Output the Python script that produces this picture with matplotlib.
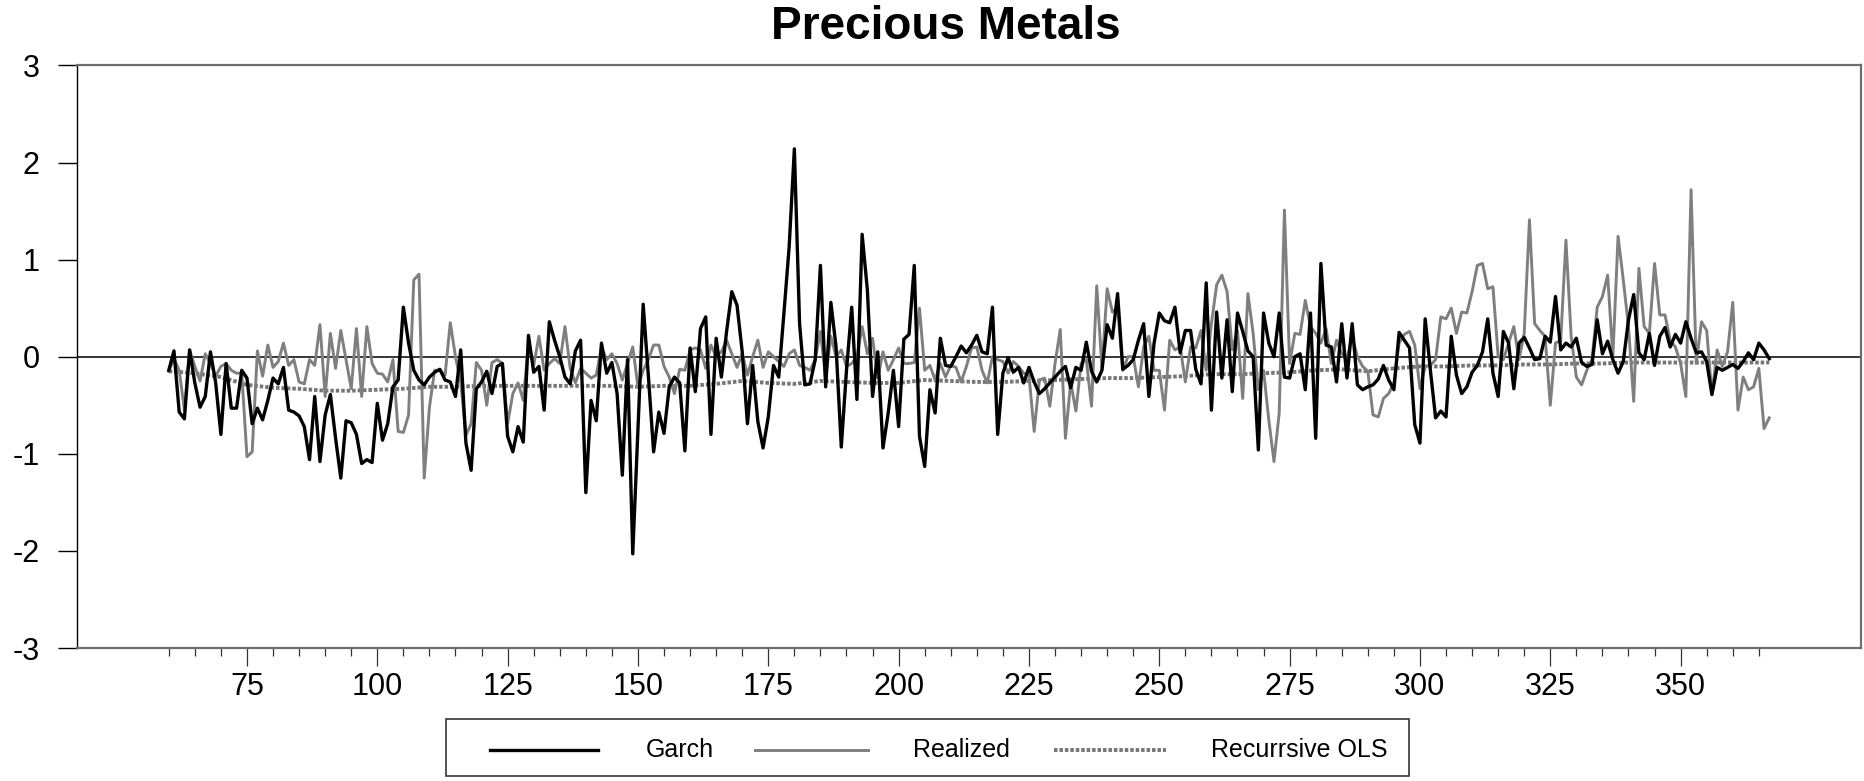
#!/usr/bin/env python3
"""
Precious Metals: Garch vs Realized vs Recursive OLS forecasts.

Usage:
    python plot.py
"""

from __future__ import annotations

import matplotlib

matplotlib.use("Agg")
import matplotlib.pyplot as plt
import numpy as np
from matplotlib.lines import Line2D
from matplotlib.patches import Rectangle

matplotlib.rcParams.update(
    {
        "font.family": ["Liberation Sans", "DejaVu Sans"],
        "figure.dpi": 100,
    }
)

# observations 60 .. 367
FIRST_OBS = 60

GARCH = [
    -0.14, 0.06, -0.57, -0.64, 0.07, -0.27, -0.52, -0.41, 0.05, -0.27,  # 60
    -0.80, -0.07, -0.53, -0.53, -0.14, -0.22, -0.69, -0.53, -0.65, -0.45,  # 70
    -0.22, -0.28, -0.11, -0.55, -0.57, -0.61, -0.72, -1.06, -0.41, -1.08,  # 80
    -0.60, -0.39, -0.84, -1.25, -0.66, -0.68, -0.80, -1.10, -1.06, -1.09,  # 90
    -0.48, -0.86, -0.69, -0.31, -0.24, 0.51, 0.14, -0.14, -0.24, -0.29,  # 100
    -0.21, -0.16, -0.13, -0.24, -0.26, -0.41, 0.07, -0.89, -1.17, -0.33,  # 110
    -0.26, -0.15, -0.38, -0.10, -0.07, -0.82, -0.98, -0.72, -0.88, 0.22,  # 120
    -0.16, -0.10, -0.55, 0.36, 0.17, 0.00, -0.21, -0.28, 0.06, 0.17,  # 130
    -1.40, -0.45, -0.66, 0.14, -0.17, -0.06, -0.38, -1.22, -0.03, -2.03,  # 140
    -0.75, 0.54, -0.20, -0.98, -0.57, -0.79, -0.31, -0.21, -0.27, -0.97,  # 150
    0.09, -0.36, 0.29, 0.41, -0.80, 0.19, -0.21, 0.26, 0.67, 0.53,  # 160
    0.05, -0.69, -0.09, -0.67, -0.94, -0.62, -0.09, -0.21, 0.45, 1.13,  # 170
    2.14, 0.34, -0.29, -0.28, -0.03, 0.94, -0.31, 0.56, 0.10, -0.93,  # 180
    -0.14, 0.51, -0.44, 1.26, 0.69, -0.41, 0.05, -0.94, -0.58, -0.14,  # 190
    -0.72, 0.18, 0.23, 0.94, -0.82, -1.13, -0.34, -0.58, 0.19, -0.09,  # 200
    -0.10, 0.00, 0.11, 0.04, 0.12, 0.22, 0.05, 0.03, 0.51, -0.80,  # 210
    -0.17, -0.01, -0.16, -0.11, -0.27, -0.11, -0.26, -0.38, -0.33, -0.27,  # 220
    -0.21, -0.15, -0.10, -0.32, -0.11, -0.14, 0.15, -0.15, -0.26, -0.14,  # 230
    0.33, 0.19, 0.65, -0.13, -0.09, -0.03, 0.17, 0.34, -0.41, 0.14,  # 240
    0.45, 0.37, 0.35, 0.51, 0.04, 0.27, 0.27, -0.13, -0.28, 0.76,  # 250
    -0.55, 0.46, -0.22, 0.38, -0.36, 0.45, 0.26, 0.06, 0.00, -0.96,  # 260
    0.45, 0.14, 0.00, 0.45, -0.21, -0.22, 0.00, 0.03, -0.34, 0.45,  # 270
    -0.84, 0.96, 0.12, 0.10, -0.26, 0.34, -0.22, 0.34, -0.29, -0.34,  # 280
    -0.31, -0.29, -0.23, -0.09, -0.24, -0.34, 0.25, 0.17, 0.09, -0.70,  # 290
    -0.89, 0.39, -0.14, -0.63, -0.56, -0.62, 0.21, -0.19, -0.38, -0.31,  # 300
    -0.16, -0.09, 0.05, 0.39, -0.17, -0.41, 0.26, 0.14, -0.33, 0.14,  # 310
    0.20, 0.09, -0.03, -0.02, 0.21, 0.15, 0.62, 0.07, 0.14, 0.10,  # 320
    0.19, -0.06, -0.10, -0.08, 0.38, 0.03, 0.16, -0.03, -0.17, -0.05,  # 330
    0.38, 0.64, 0.04, -0.03, 0.24, -0.09, 0.21, 0.30, 0.10, 0.23,  # 340
    0.14, 0.36, 0.19, 0.04, 0.05, -0.05, -0.39, -0.11, -0.14, -0.11,  # 350
    -0.08, -0.12, -0.05, 0.04, -0.03, 0.14, 0.07, -0.02,  # 360
]

REALIZED = [
    -0.15, -0.02, -0.14, -0.55, 0.07, -0.10, -0.25, 0.03, -0.07, -0.20,  # 60
    -0.10, -0.07, -0.14, -0.17, -0.17, -1.03, -0.98, 0.06, -0.20, 0.12,  # 70
    -0.11, -0.05, 0.14, -0.09, -0.03, -0.26, -0.28, -0.03, -0.09, 0.33,  # 80
    -0.41, 0.24, -0.12, 0.27, -0.03, -0.33, 0.29, -0.41, 0.31, -0.07,  # 90
    -0.17, -0.18, -0.26, -0.03, -0.77, -0.78, -0.60, 0.79, 0.85, -1.25,  # 100
    -0.52, -0.14, -0.14, -0.19, 0.35, 0.00, -0.26, -0.81, -0.69, -0.06,  # 110
    -0.14, -0.50, -0.06, -0.03, -0.07, -0.69, -0.38, -0.27, -0.45, 0.14,  # 120
    -0.09, 0.21, -0.14, -0.07, -0.02, -0.07, 0.31, -0.12, -0.27, -0.12,  # 130
    -0.17, -0.22, -0.19, 0.10, -0.03, 0.03, -0.07, -0.24, -0.07, 0.10,  # 140
    -0.31, -0.14, -0.03, 0.12, 0.12, -0.10, -0.21, -0.38, -0.13, -0.14,  # 150
    0.07, 0.09, 0.07, -0.12, 0.12, 0.00, 0.05, 0.17, 0.03, -0.11,  # 160
    0.03, -0.19, 0.00, 0.17, -0.11, 0.05, 0.00, -0.05, -0.10, 0.03,  # 170
    0.07, -0.09, -0.11, -0.14, -0.03, 0.26, -0.22, 0.21, 0.00, 0.07,  # 180
    -0.10, -0.07, 0.00, 0.31, 0.03, 0.19, -0.22, 0.05, -0.14, -0.03,  # 190
    0.09, -0.07, -0.07, -0.06, 0.50, -0.14, -0.09, -0.24, -0.07, -0.21,  # 200
    -0.09, -0.11, -0.26, -0.10, 0.09, 0.10, -0.14, -0.27, 0.00, -0.03,  # 210
    -0.05, -0.17, -0.05, -0.10, -0.17, -0.19, -0.77, -0.24, -0.22, -0.51,  # 220
    -0.07, 0.28, -0.84, -0.26, -0.56, -0.07, -0.03, -0.51, 0.73, -0.12,  # 230
    0.70, 0.46, 0.51, -0.14, 0.00, 0.00, -0.31, 0.10, 0.21, -0.14,  # 240
    -0.14, -0.55, 0.17, 0.07, 0.10, -0.26, 0.10, 0.09, 0.27, -0.14,  # 250
    0.34, 0.74, 0.84, 0.67, 0.07, 0.27, -0.43, 0.65, 0.24, -0.34,  # 260
    -0.14, -0.65, -1.08, -0.58, 1.51, -0.07, 0.24, 0.23, 0.58, 0.31,  # 270
    0.24, 0.14, 0.29, -0.07, 0.17, 0.03, -0.02, 0.21, 0.00, -0.10,  # 280
    -0.15, -0.60, -0.62, -0.43, -0.38, -0.27, 0.14, 0.23, 0.26, 0.12,  # 290
    -0.33, -0.10, -0.09, -0.03, 0.41, 0.39, 0.50, 0.24, 0.46, 0.45,  # 300
    0.67, 0.94, 0.96, 0.70, 0.72, 0.00, -0.03, 0.14, 0.31, -0.03,  # 310
    0.24, 1.41, 0.34, 0.27, 0.21, -0.50, 0.14, 0.17, 1.20, 0.21,  # 320
    -0.21, -0.29, -0.14, -0.03, 0.51, 0.62, 0.84, 0.00, 1.24, 0.79,  # 330
    0.31, -0.46, 0.91, 0.31, 0.24, 0.96, 0.43, 0.43, 0.17, 0.10,  # 340
    -0.07, -0.41, 1.72, -0.07, 0.36, 0.27, -0.39, 0.07, -0.10, 0.05,  # 350
    0.56, -0.55, -0.21, -0.34, -0.31, -0.12, -0.74, -0.63,  # 360
]

# recursive OLS forecast is smooth; read every 5th observation
OLS_OBS = [
    60, 65, 70, 75, 80, 85, 90, 95, 100, 105, 110, 115, 120, 125, 130, 135,
    140, 145, 150, 155, 160, 165, 170, 175, 180, 185, 190, 195, 200, 205,
    210, 215, 220, 225, 230, 235, 240, 245, 250, 255, 260, 265, 270, 275,
    280, 285, 290, 295, 300, 305, 310, 315, 320, 325, 330, 335, 340, 345,
    350, 355, 360, 365, 367,
]
OLS = [
    -0.15, -0.17, -0.21, -0.29, -0.32, -0.33, -0.35, -0.35, -0.34, -0.33,
    -0.31, -0.31, -0.30, -0.30, -0.30, -0.30, -0.30, -0.30, -0.31, -0.30,
    -0.30, -0.28, -0.25, -0.27, -0.28, -0.25, -0.26, -0.27, -0.27, -0.24,
    -0.25, -0.26, -0.26, -0.25, -0.24, -0.23, -0.22, -0.22, -0.21, -0.20,
    -0.18, -0.18, -0.17, -0.16, -0.14, -0.13, -0.15, -0.12, -0.10, -0.10,
    -0.09, -0.09, -0.08, -0.08, -0.07, -0.07, -0.06, -0.06, -0.06, -0.06,
    -0.06, -0.06, -0.06,
]

Y_TICKS = [-3, -2, -1, 0, 1, 2, 3]
X_MAJOR = [75, 100, 125, 150, 175, 200, 225, 250, 275, 300, 325, 350]
X_MINOR_FIRST, X_MINOR_LAST = 60, 365

LEGEND_LABELS = ["Garch", "Realized", "Recurrsive OLS"]

STYLE = {
    "Garch": dict(color="black", lw=2.4, ls="-"),
    "Realized": dict(color="#7f7f7f", lw=2.1, ls="-"),
    "Recurrsive OLS": dict(color="#767676", lw=2.8, ls=(0, (0.9, 0.5))),
}


def draw_legend(fig) -> None:
    # boxed legend below the axes, laid out in figure pixels
    W, H = fig.bbox.width, fig.bbox.height

    def fx(px):
        return px / W

    def fy(py):
        return 1 - py / H

    fig.add_artist(
        Rectangle((fx(446), fy(776)), fx(1409) - fx(446), fy(719) - fy(776),
                  transform=fig.transFigure, fill=False, edgecolor="#333333", lw=1.2)
    )
    y = fy(750)
    entries = [(490, 598, 646), (755, 868, 913), (1054, 1166, 1211)]
    for label, (x0, x1, xt) in zip(LEGEND_LABELS, entries):
        fig.add_artist(Line2D([fx(x0), fx(x1)], [y, y], transform=fig.transFigure, **STYLE[label]))
        fig.text(fx(xt), y, label, ha="left", va="center", fontsize=18)


def main() -> None:
    garch = np.array(GARCH)
    realized = np.array(REALIZED)
    obs = np.arange(FIRST_OBS, FIRST_OBS + len(garch))
    assert len(garch) == len(realized) == 308

    fig = plt.figure(figsize=(18.65, 7.81), dpi=100)
    ax = fig.add_axes([0.04129, 0.17029, 0.95657, 0.74597])

    ax.axhline(0, color="black", lw=1.1, zorder=1)
    ax.plot(OLS_OBS, OLS, zorder=2, **STYLE["Recurrsive OLS"])
    ax.plot(obs, realized, zorder=3, **STYLE["Realized"])
    ax.plot(obs, garch, zorder=4, **STYLE["Garch"])

    ax.set_xlim(42.4, 384.6)
    ax.set_ylim(-3, 3)

    ax.set_yticks(Y_TICKS)
    ax.set_yticklabels([str(t) for t in Y_TICKS])
    ax.set_xticks(X_MAJOR)
    ax.set_xticklabels([str(t) for t in X_MAJOR])
    ax.set_xticks(np.arange(X_MINOR_FIRST, X_MINOR_LAST + 1, 5), minor=True)

    ax.tick_params(axis="y", direction="out", length=14, width=1.0, pad=13,
                   labelsize=22, color="black")
    ax.tick_params(axis="x", which="major", direction="out", length=13, width=0.9,
                   pad=4, labelsize=22, color="#333333")
    ax.tick_params(axis="x", which="minor", direction="out", length=6, width=0.9,
                   color="#333333")

    for side in ("top", "bottom", "right"):
        ax.spines[side].set_color("#6e6e6e")
        ax.spines[side].set_linewidth(1.6)
    ax.spines["left"].set_color("black")
    ax.spines["left"].set_linewidth(1.0)

    fig.text(0.507, 0.966, "Precious Metals", ha="center", va="center",
             fontsize=33, fontweight="bold")

    draw_legend(fig)

    fig.savefig("out.png", dpi=100)
    plt.close(fig)


if __name__ == "__main__":
    main()
